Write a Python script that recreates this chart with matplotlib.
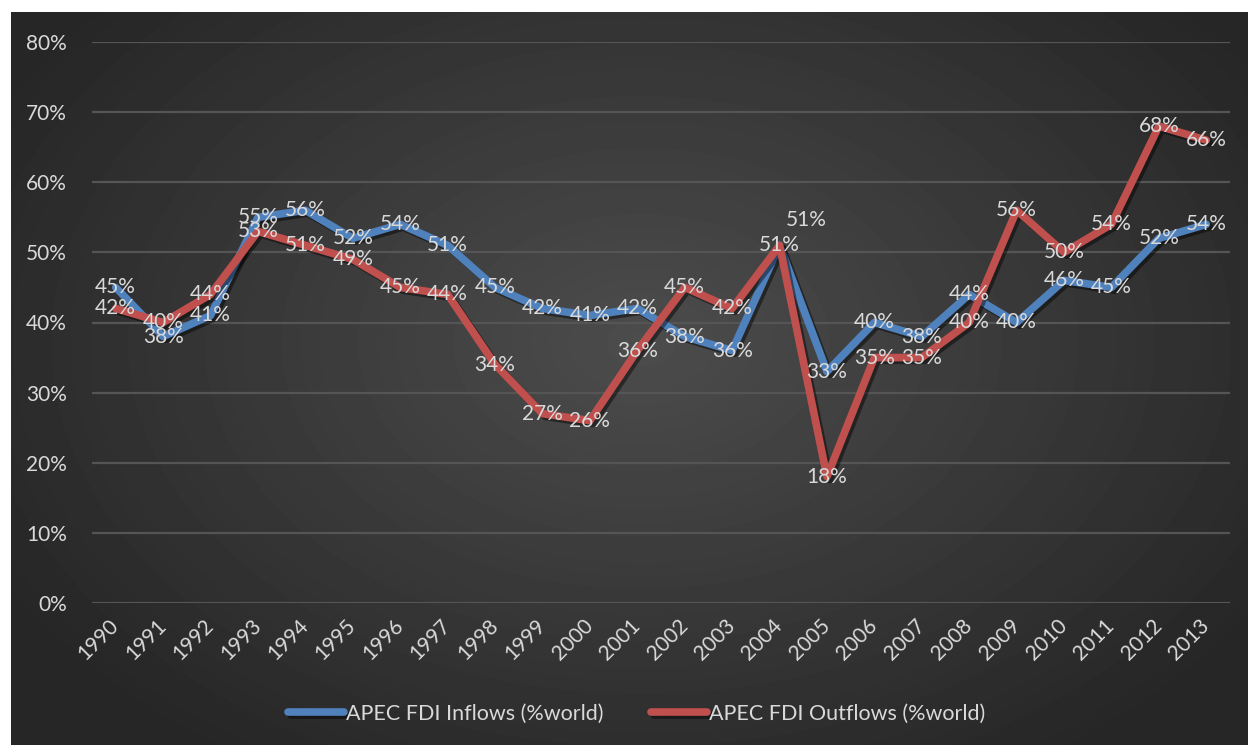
import numpy as np
import matplotlib
matplotlib.use("Agg")
from matplotlib import pyplot as plt
from matplotlib import patheffects as pe

years = [str(y) for y in range(1990, 2014)]
inflows = [45, 38, 41, 55, 56, 52, 54, 51, 45, 42, 41, 42,
           38, 36, 51, 33, 40, 38, 44, 40, 46, 45, 52, 54]
outflows = [42, 40, 44, 53, 51, 49, 45, 44, 34, 27, 26, 36,
            45, 42, 51, 18, 35, 35, 40, 56, 50, 54, 68, 66]

blue = '#4f81bd'
red = '#c0504d'
txt = '#d9d9d9'

plt.rcParams['font.family'] = ['Lato', 'DejaVu Sans']

W, H = 1248, 745
fig = plt.figure(figsize=(W / 100, H / 100), dpi=100, facecolor='white')

# dark radial gradient backdrop
bg = fig.add_axes([11 / W, 0, 1 - 11 / W, 1 - 12 / H])
bg.set_axis_off()
yy, xx = np.mgrid[0:733, 0:1237]
cx, cy = 630, 330
r = np.sqrt(((xx - cx) / 760.0) ** 2 + ((yy - cy) / 520.0) ** 2)
shade = np.clip(0.30 - 0.155 * r, 0.15, 0.30)
bg.imshow(shade, cmap='gray', vmin=0, vmax=1, aspect='auto',
          extent=[0, 1, 0, 1], origin='upper')
bg.set_xlim(0, 1)
bg.set_ylim(0, 1)

ax = fig.add_axes([92 / W, (H - 603) / H, (1230 - 92) / W, (603 - 42) / H])
ax.patch.set_alpha(0)
x = np.arange(len(years))

shadow = [pe.SimpleLineShadow(offset=(2, -2), shadow_color='black', alpha=0.45),
          pe.Normal()]
ax.plot(x, inflows, color=blue, lw=5.5, solid_joinstyle='round',
        solid_capstyle='round', path_effects=shadow, label='APEC FDI Inflows (%world)', zorder=3)
ax.plot(x, outflows, color=red, lw=5.5, solid_joinstyle='round',
        solid_capstyle='round', path_effects=shadow, label='APEC FDI Outflows (%world)', zorder=3)

for i in range(len(years)):
    off = (0, 0)
    if years[i] == '2004':
        off = (19, 18)
    ax.annotate(f'{inflows[i]}%', (x[i], inflows[i]), xytext=off, textcoords='offset points',
                ha='center', va='center', color=txt, fontsize=15, zorder=5)
    ax.annotate(f'{outflows[i]}%', (x[i], outflows[i]), ha='center', va='center',
                color=txt, fontsize=15, zorder=5)

ax.set_xlim(-0.5, len(years) - 0.5)
ax.set_ylim(0, 80)
ax.set_yticks(range(0, 81, 10))
ax.set_yticklabels([f'{v}%' for v in range(0, 81, 10)])
ax.set_xticks(x)
ax.set_xticklabels(years, rotation=45, ha='right', va='center', rotation_mode='anchor')
ax.tick_params(axis='both', length=0, colors=txt, labelsize=15)
ax.tick_params(axis='y', pad=18)
ax.tick_params(axis='x', pad=14)
for s in ax.spines.values():
    s.set_visible(False)
ax.grid(axis='y', color='#555555', lw=1.6)
ax.set_axisbelow(True)

leg = fig.legend(loc='center', bbox_to_anchor=(0.51, (H - 714) / H), ncol=2, frameon=False,
                 fontsize=15.5, labelcolor=txt, handlelength=2.6, handletextpad=0.1,
                 columnspacing=2.2)

fig.savefig('out.png', dpi=100, facecolor='white')
